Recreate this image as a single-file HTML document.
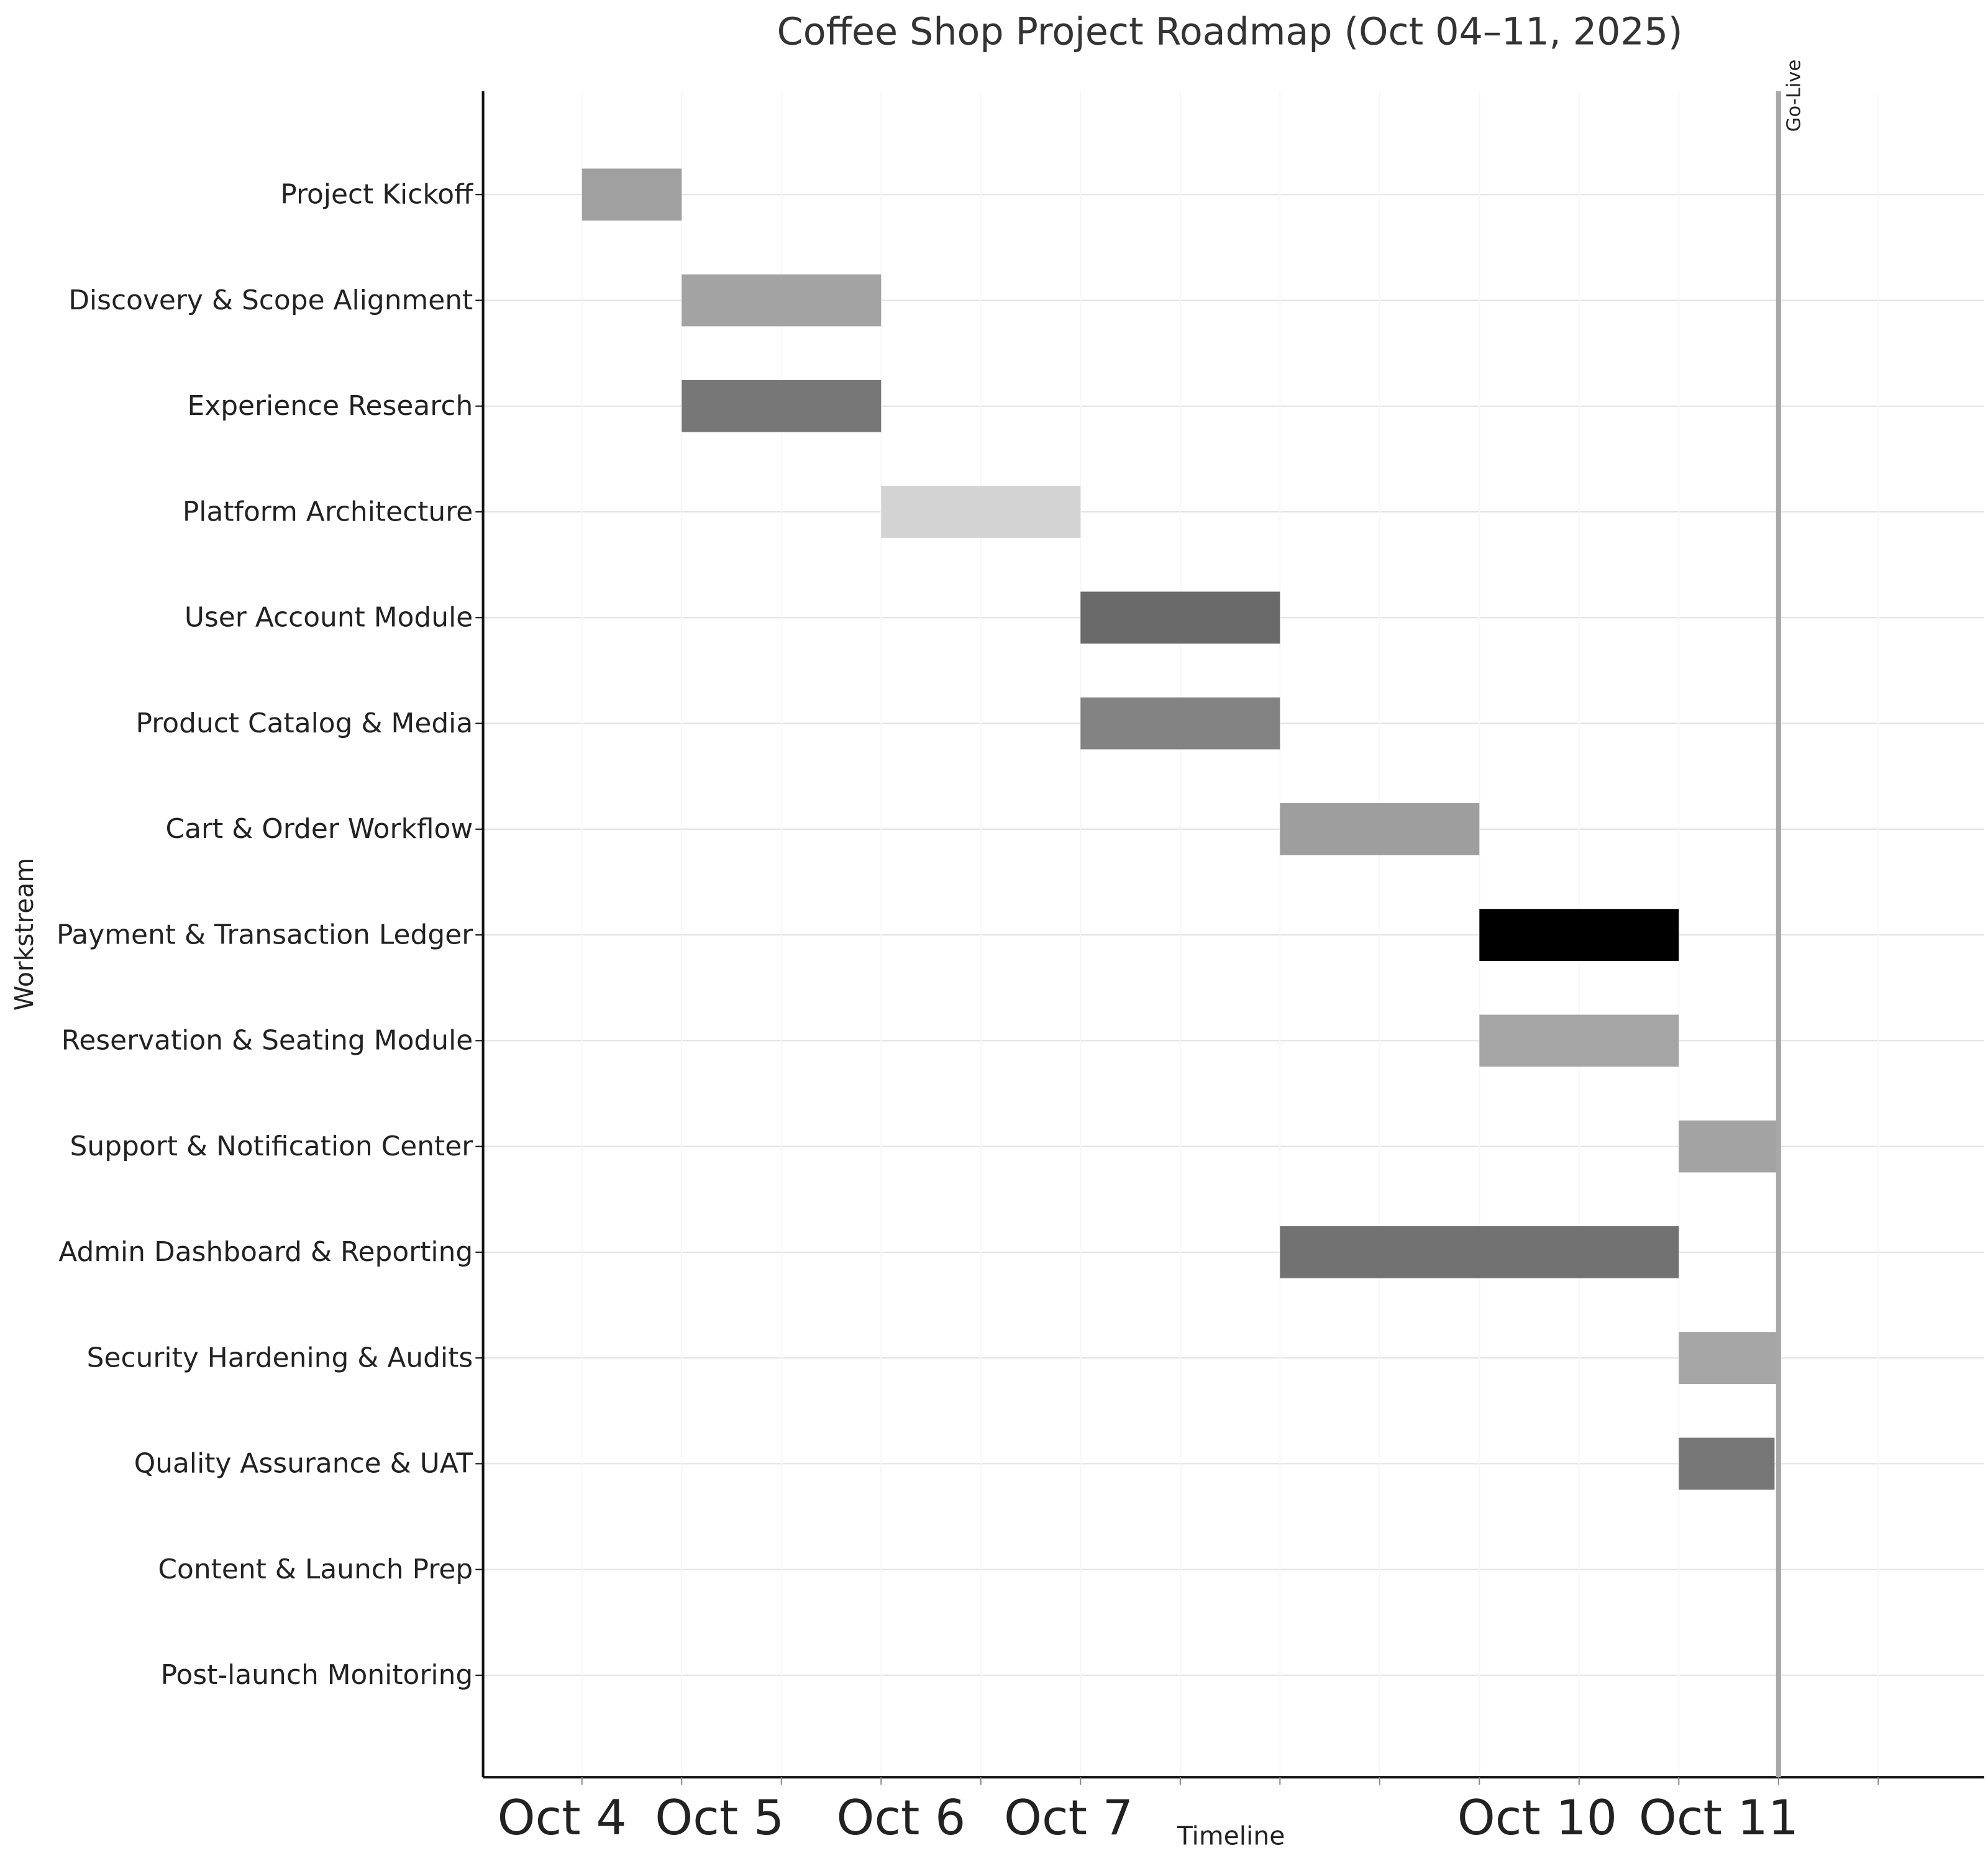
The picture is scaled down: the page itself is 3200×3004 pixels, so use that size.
<!DOCTYPE html>
<html><head><meta charset="utf-8"><style>
html,body{margin:0;padding:0;background:#fff;}
svg{display:block;font-family:"DejaVu Sans","Liberation Sans",sans-serif;}
</style></head><body>
<svg id="chart" width="3200" height="3004" viewBox="0 0 1568 1472" xmlns="http://www.w3.org/2000/svg">
<text x="970" y="35" font-size="29.5" fill="#333" text-anchor="middle">Coffee Shop Project Roadmap (Oct 04–11, 2025)</text>
<text transform="translate(26,737) rotate(-90)" font-size="20" fill="#222" text-anchor="middle">Workstream</text>
<text x="971" y="1455" font-size="20" fill="#222" text-anchor="middle">Timeline</text>
<g id="grid"></g>
<g id="bars"></g>
<g id="labels"></g>
<line x1="381" y1="72" x2="381" y2="1402" stroke="#111" stroke-width="2"/>
<line x1="381" y1="1402" x2="1565" y2="1402" stroke="#111" stroke-width="2"/>
<g id="ticks"></g>
<g id="golive"></g>
</svg>
<script>
const categories = ["Project Kickoff","Discovery & Scope Alignment","Experience Research","Platform Architecture","User Account Module","Product Catalog & Media","Cart & Order Workflow","Payment & Transaction Ledger","Reservation & Seating Module","Support & Notification Center","Admin Dashboard & Reporting","Security Hardening & Audits","Quality Assurance & UAT","Content & Launch Prep","Post-launch Monitoring"];
const starts = [0,0.5,0.5,1.5,2.5,2.5,3.5,4.5,4.5,5.5,3.5,5.5,5.5,null,null];
const ends = [0.5,1.5,1.5,2.5,3.5,3.5,4.5,5.5,5.5,6.0,5.5,6.0,5.98,null,null];
const colors = ["#a0a0a0","#a3a3a3","#777777","#d3d3d3","#6a6a6a","#838383","#9e9e9e","#000000","#a5a5a5","#a3a3a3","#727272","#a5a5a5","#777777"];
const tickLabels = ["Oct 4","Oct 5","Oct 6","Oct 7","Oct 10","Oct 11"];
const tickLabelPos = [-0.1,0.69,1.6,2.44,4.79,5.7];
const minorTicks = [0,0.5,1,1.5,2,2.5,3,3.5,4,4.5,5,5.5,6,6.5];
const goLive = 6.0;
const NS="http://www.w3.org/2000/svg";
const xs = d => 459 + d*157.3;
const ys = i => 153.5 + i*83.43;
function mk(tag, attrs, parent){const e=document.createElementNS(NS,tag);for(const k in attrs)e.setAttribute(k,attrs[k]);document.getElementById(parent).appendChild(e);return e;}
categories.forEach((c,i)=>{
  const g=mk("line",{x1:381,x2:1565,y1:ys(i),y2:ys(i),stroke:"#e2e2e2","stroke-width":1},"grid");
  
  
  const t=mk("text",{x:373,y:ys(i)+7,"font-size":21.5,fill:"#222","text-anchor":"end"},"labels");
  t.textContent=c;
  
  
  const tk=mk("line",{x1:375,x2:381,y1:ys(i),y2:ys(i),stroke:"#111","stroke-width":1},"ticks");
  
  
  if(starts[i]!==null){
    const r=mk("rect",{x:xs(starts[i]),y:ys(i)-20.5,width:xs(ends[i])-xs(starts[i]),height:41,fill:colors[i]},"bars");
    
    
  }
});
minorTicks.forEach(d=>{
  const v=mk("line",{x1:xs(d),x2:xs(d),y1:72,y2:1402,stroke:"#f7f7f7","stroke-width":1},"grid");
  
  
  const t=mk("line",{x1:xs(d),x2:xs(d),y1:1402,y2:1408,stroke:"#888","stroke-width":1},"ticks");
  
  
});
tickLabels.forEach((l,i)=>{
  const t=mk("text",{x:xs(tickLabelPos[i]),y:1447,"font-size":38,fill:"#222","text-anchor":"middle"},"ticks");
  t.textContent=l;
  
  
});
const gl=mk("line",{x1:xs(goLive),x2:xs(goLive),y1:72,y2:1402,stroke:"#a8a8a8","stroke-width":4},"golive");


const gt=mk("text",{transform:"translate("+(xs(goLive)+17)+",104) rotate(-90)","font-size":15,fill:"#222"},"golive");
gt.textContent="Go-Live";


</script>
</body></html>
